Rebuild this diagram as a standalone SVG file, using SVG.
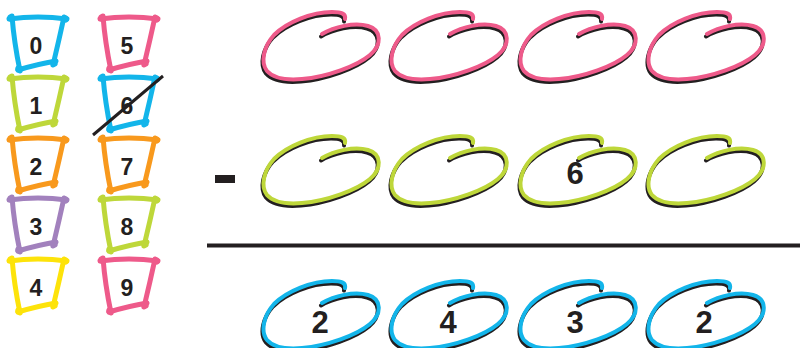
<svg xmlns="http://www.w3.org/2000/svg" xmlns:xlink="http://www.w3.org/1999/xlink" width="800" height="348" viewBox="0 0 800 348">
<style>
.box{fill:none;stroke:currentColor;stroke-width:5;stroke-linecap:round}
.dot{fill:currentColor}
.d{font-family:"Liberation Sans",Arial,sans-serif;font-weight:bold;fill:#231f20;text-anchor:middle}
.sm{font-size:23px}
.lg{font-size:31px}
.shadow{fill:none;stroke:#231f20;stroke-width:4;stroke-linecap:round}
.col{fill:none;stroke:currentColor;stroke-width:4;stroke-linecap:round}
</style>
<defs>
<g id="boxshape">
<path class="box" d="M-27,-26 Q2,-30 31,-26"/>
<path class="box" d="M28,-28 Q23,-5 17,20"/>
<path class="box" d="M20,16 Q2,19 -18,25"/>
<path class="box" d="M-24,-29 Q-22,-3 -16,26"/>
<circle class="dot" cx="-25" cy="-27" r="3.8"/>
<circle class="dot" cx="29" cy="-26" r="3.8"/>
<circle class="dot" cx="18" cy="18" r="3.8"/>
<circle class="dot" cx="-17" cy="24" r="3.8"/>
</g>
<path id="loopPath" d="M83,9 C84,4 80,2 70,2 C50,2 25,12 12,25 C2,36 -2,52 5,61 C12,69 28,70 40,69 C65,67 95,56 108,45 C120,35 120,20 106,16 C92,12 72,17 60,24"/>
<g id="loop">
<use xlink:href="#loopPath" class="shadow" transform="translate(-1,2.5)"/>
<use xlink:href="#loopPath" class="col"/>
</g>
</defs>
<g id="digit-boxes">
<g id="box0" color="#13b5ea"><use xlink:href="#boxshape" x="36" y="45"/><text class="d sm" x="36" y="54">0</text></g>
<g id="box1" color="#bed73a"><use xlink:href="#boxshape" x="36" y="105"/><text class="d sm" x="36" y="114">1</text></g>
<g id="box2" color="#f8991d"><use xlink:href="#boxshape" x="36" y="166"/><text class="d sm" x="36" y="175">2</text></g>
<g id="box3" color="#a281bd"><use xlink:href="#boxshape" x="36" y="226"/><text class="d sm" x="36" y="235">3</text></g>
<g id="box4" color="#fde30a"><use xlink:href="#boxshape" x="36" y="287"/><text class="d sm" x="36" y="296">4</text></g>
<g id="box5" color="#ee5a8a"><use xlink:href="#boxshape" x="127" y="45"/><text class="d sm" x="127" y="54">5</text></g>
<g id="box6" color="#13b5ea"><use xlink:href="#boxshape" x="127" y="105"/><text class="d sm" x="127" y="114">6</text>
<line x1="93" y1="135" x2="163" y2="76" stroke="#231f20" stroke-width="3"/></g>
<g id="box7" color="#f8991d"><use xlink:href="#boxshape" x="127" y="166"/><text class="d sm" x="127" y="175">7</text></g>
<g id="box8" color="#bed73a"><use xlink:href="#boxshape" x="127" y="226"/><text class="d sm" x="127" y="235">8</text></g>
<g id="box9" color="#ee5a8a"><use xlink:href="#boxshape" x="127" y="287"/><text class="d sm" x="127" y="296">9</text></g>
</g>
<g id="row1" color="#ee5a8a">
<use xlink:href="#loop" x="262" y="10"/>
<use xlink:href="#loop" x="390" y="10"/>
<use xlink:href="#loop" x="519" y="10"/>
<use xlink:href="#loop" x="647" y="10"/>
</g>
<g id="row2" color="#bed73a">
<use xlink:href="#loop" x="262" y="134"/>
<use xlink:href="#loop" x="390" y="134"/>
<use xlink:href="#loop" x="519" y="134"/>
<use xlink:href="#loop" x="647" y="134"/>
<text class="d lg" x="575" y="184">6</text>
</g>
<g id="minus"><rect x="215" y="175" width="20" height="8" fill="#231f20"/></g>
<g id="rule"><rect x="207" y="243.5" width="593" height="4" fill="#231f20"/></g>
<g id="row3" color="#13b5ea">
<use xlink:href="#loop" x="262" y="279"/>
<use xlink:href="#loop" x="390" y="279"/>
<use xlink:href="#loop" x="519" y="279"/>
<use xlink:href="#loop" x="647" y="279"/>
<text class="d lg" x="320" y="333">2</text>
<text class="d lg" x="448" y="333">4</text>
<text class="d lg" x="575" y="333">3</text>
<text class="d lg" x="704" y="333">2</text>
</g>
</svg>
